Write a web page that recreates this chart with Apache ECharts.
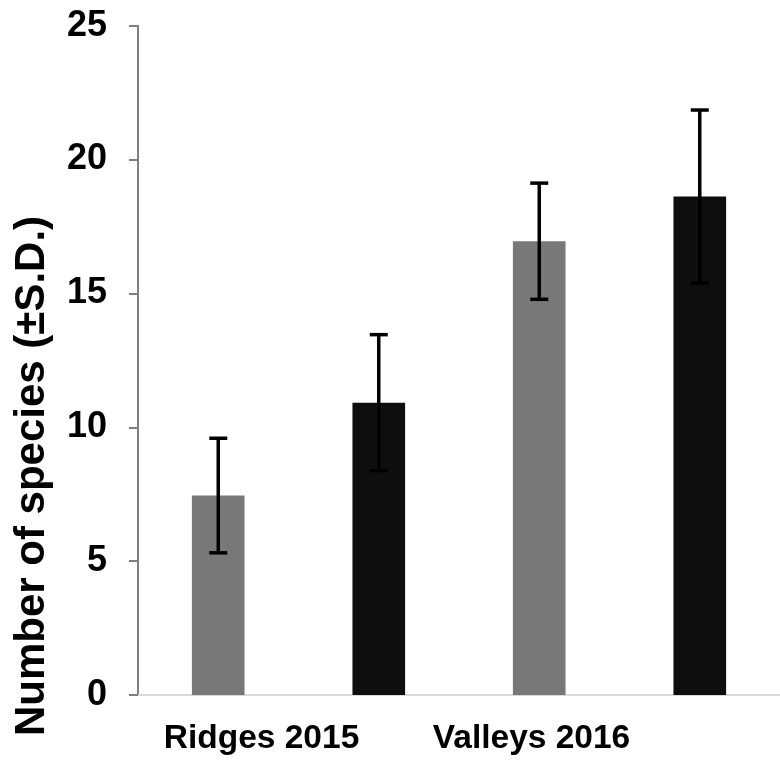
<!DOCTYPE html>
<html>
<head>
<meta charset="utf-8">
<script src="https://cdn.jsdelivr.net/npm/echarts@6/dist/echarts.min.js"></script>
<style>html,body{margin:0;padding:0;background:#fff;}#c{width:780px;height:766px;}</style>
</head>
<body>
<div id="c"></div>
<script>
var categories = ['Ridges 2015', 'Valleys 2016'];
var greyMeans = [7.45, 16.95];
var greySD = [2.14, 2.17];
var blackMeans = [10.92, 18.62];
var blackSD = [2.54, 3.23];
var yTicks = [0, 5, 10, 15, 20, 25];
var yAxisTitle = 'Number of species (±S.D.)';

var chart = echarts.init(document.getElementById('c'), null, {renderer: 'canvas'});
var FONT = '"Liberation Sans", Arial, sans-serif';

function errorSeries(means, sds, side, name) {
  return {
    type: 'custom',
    name: name,
    z: 10,
    data: means.map(function (m, i) { return [i, m - sds[i], m + sds[i]]; }),
    renderItem: function (params, api) {
      var catW = api.size([1, 0])[0];
      var lo = api.coord([api.value(0), api.value(1)]);
      var hi = api.coord([api.value(0), api.value(2)]);
      var x = lo[0] + side * catW / 4;
      var half = 9;
      var st = {stroke: '#000', lineWidth: 3.5};
      return {
        type: 'group',
        children: [
          {type: 'line', shape: {x1: x, y1: lo[1], x2: x, y2: hi[1]}, style: st},
          {type: 'line', shape: {x1: x - half, y1: hi[1], x2: x + half, y2: hi[1]}, style: st},
          {type: 'line', shape: {x1: x - half, y1: lo[1], x2: x + half, y2: lo[1]}, style: st}
        ]
      };
    }
  };
}

var labelShift = {'Ridges 2015': 'a', 'Valleys 2016': 'b'};

chart.setOption({
  animation: false,
  backgroundColor: '#fff',
  grid: {left: 138, top: 25.7, width: 648, bottom: 71, containLabel: false},
  xAxis: {
    type: 'category',
    data: categories,
    axisLine: {show: true, lineStyle: {color: '#d9d9d9', width: 2}},
    axisTick: {show: false},
    axisLabel: {
      interval: 0,
      hideOverlap: false,
      margin: 27,
      fontFamily: FONT,
      fontWeight: 'bold',
      fontSize: 33.5,
      color: '#000',
      formatter: function (v) { return '{' + labelShift[v] + '|' + v + '}'; },
      rich: {
        a: {fontFamily: FONT, fontWeight: 'bold', fontSize: 33.5, color: '#000', padding: [0, 74, 0, 0]},
        b: {fontFamily: FONT, fontWeight: 'bold', fontSize: 33.5, color: '#000', padding: [0, 176, 0, 0]}
      }
    }
  },
  yAxis: {
    type: 'value',
    min: yTicks[0],
    max: yTicks[yTicks.length - 1],
    interval: 5,
    splitLine: {show: false},
    axisLine: {show: true, lineStyle: {color: '#7f7f7f', width: 2}},
    axisTick: {show: true, length: 9, lineStyle: {color: '#7f7f7f', width: 2}},
    axisLabel: {
      margin: 31,
      fontFamily: FONT,
      fontWeight: 'bold',
      fontSize: 36,
      color: '#000'
    }
  },
  graphic: [{
    type: 'text',
    x: 32,
    y: 476,
    rotation: Math.PI / 2,
    style: {
      text: yAxisTitle,
      fontFamily: FONT,
      fontWeight: 'bold',
      fontSize: 42,
      fill: '#000',
      textAlign: 'center',
      textVerticalAlign: 'middle'
    }
  }],
  series: [
    {type: 'bar', name: 'grey', data: greyMeans, barWidth: '16.4%', barGap: '205%', itemStyle: {color: '#787878'}},
    {type: 'bar', name: 'black', data: blackMeans, barWidth: '16.4%', barGap: '205%', itemStyle: {color: '#0e0e0e'}},
    errorSeries(greyMeans, greySD, -1, 'greyErr'),
    errorSeries(blackMeans, blackSD, 1, 'blackErr')
  ]
});
</script>
</body>
</html>
